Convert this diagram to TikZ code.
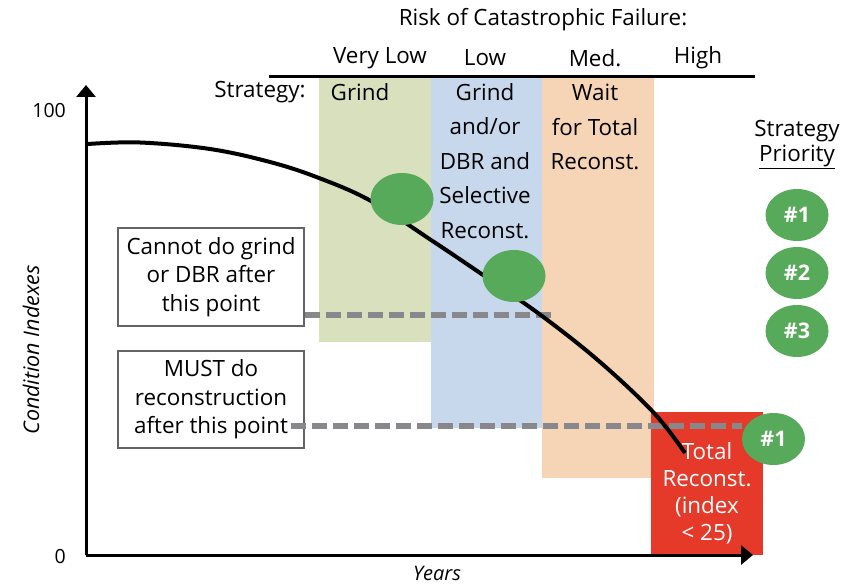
\documentclass[tikz,border=0pt]{standalone}
\usepackage{fontspec}
\setmainfont{Open Sans}
\usetikzlibrary{arrows.meta,shapes.geometric}
\definecolor{bandgreen}{RGB}{216,224,190}
\definecolor{bandblue}{RGB}{199,216,237}
\definecolor{bandorange}{RGB}{246,212,182}
\definecolor{redfill}{RGB}{229,57,42}
\definecolor{dotgreen}{RGB}{86,170,90}
\definecolor{dashgray}{RGB}{136,136,140}
\definecolor{boxgray}{RGB}{100,100,100}
\tikzset{
  lbl/.style={inner sep=0pt, font=\fontsize{22.4}{26}\selectfont},
  bandtxt/.style={inner sep=0pt, align=center, font=\fontsize{22.4}{34.5}\selectfont},
  notebox/.style={draw=boxgray, line width=2pt, minimum width=186pt, inner sep=0pt, align=center, font=\fontsize{22.4}{28.5}\selectfont},
  dot/.style={ellipse, fill=dotgreen, minimum width=63pt, minimum height=52pt, inner sep=0pt, text=white, font=\bfseries\fontsize{21.5}{24}\selectfont},
  dashline/.style={draw=dashgray, line width=6pt, dash pattern=on 15pt off 6pt},
  axisline/.style={line width=3pt, -{Triangle[length=12pt,width=19pt]}},
  axlbl/.style={inner sep=0pt, font=\fontsize{19.5}{22}\selectfont},
}
\begin{document}
\begin{tikzpicture}[x=1pt,y=-1pt]
\useasboundingbox (0,0) rectangle (859,585);
% bands
\fill[bandgreen] (319,77) rectangle (431,342);
\fill[bandblue] (431,77) rectangle (542,428);
\fill[bandorange] (542,77) rectangle (654,478);
\node[fill=redfill, minimum width=112pt, minimum height=143pt, inner sep=0pt] (redbox) at (707,483.5) {};
% header
\node[lbl] (risk) at (543,20) {Risk of Catastrophic Failure:};
\node[lbl] (vlow) at (380,58) {Very Low};
\node[lbl] (low) at (485,58) {Low};
\node[lbl] (med) at (595,58) {Med.};
\node[lbl] (high) at (698,58) {High};
\coordinate (hl) at (269,77);
\coordinate (hr) at (755,77);
\draw[line width=3pt] (hl) -- (hr);
\node[lbl] (strat) at (260,92) {Strategy:};
\node[lbl] (grind) at (360,92) {Grind};
\node[bandtxt] (lowtxt) at (485,161) {Grind\\and/or\\DBR and\\Selective\\Reconst.};
\node[bandtxt] (medtxt) at (595,127) {Wait\\for Total\\Reconst.};
\node[inner sep=0pt, align=center, text=white, font=\fontsize{22.4}{27}\selectfont] (totaltxt) at (707,493) {Total\\Reconst.\\(index\\< 25)};
% priority legend
\node[inner sep=0pt, align=center, font=\fontsize{22.4}{25}\selectfont] (prio) at (797,145) {Strategy\\\underline{Priority}};
\node[dot] (p1) at (797,215) {\#1};
\node[dot] (p2) at (797,273) {\#2};
\node[dot] (p3) at (797,331) {\#3};
% axes
\coordinate (origin) at (86,555);
\coordinate (ytip) at (86,85);
\coordinate (xtip) at (753,555);
\draw[axisline] (origin) -- (ytip);
\draw[axisline] (origin) -- (xtip);
\node[axlbl, anchor=east] (hundred) at (66,111) {100};
\node[axlbl, anchor=east] (zero) at (66,557) {0};
\node[axlbl, rotate=90, font=\itshape\fontsize{21.5}{24}\selectfont] (ylab) at (31,350) {Condition Indexes};
\node[axlbl, font=\itshape\fontsize{20}{22}\selectfont] (xlab) at (437,573) {Years};
% boxes
\node[notebox, minimum height=98pt] (cannot) at (211,277) {Cannot do grind\\or DBR after\\this point};
\node[notebox, minimum height=97pt] (must) at (211,399.5) {MUST do\\reconstruction\\after this point};
% dashed thresholds
\coordinate (d1e) at (552,315);
\coordinate (d2s) at (291,426);
\coordinate (d2e) at (742,426);
\draw[dashline] (cannot.east |- d1e) -- (d1e);
\draw[dashline] (d2s) -- (d2e);
% curve
\draw[line width=4pt] plot[smooth, tension=0.6] coordinates {(88,144) (140,142.5) (210,149) (270,162) (319,178) (371,201) (431,240) (483,275) (542,316) (600,362) (654,413) (685,453)};
% dots
\node[dot] (c1) at (402,199) {};
\node[dot] (c2) at (514,276) {};
\node[dot] (low1) at (773.5,439) {\#1};
\end{tikzpicture}
\end{document}
